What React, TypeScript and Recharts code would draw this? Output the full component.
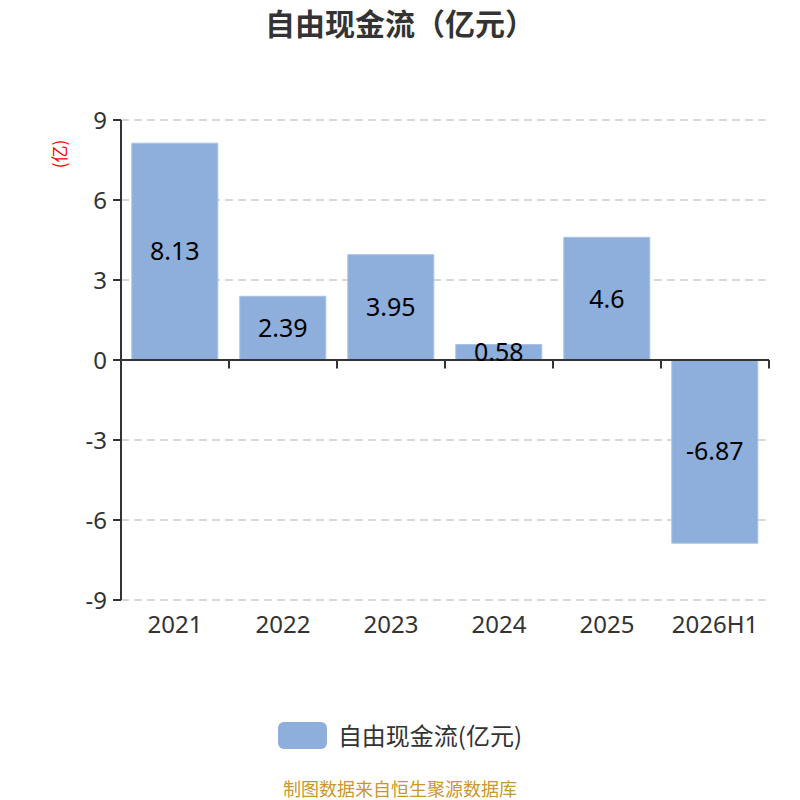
import React from "react";
import {
  BarChart,
  Bar,
  XAxis,
  YAxis,
  CartesianGrid,
  ReferenceLine,
  LabelList,
} from "recharts";

const categories = ["2021", "2022", "2023", "2024", "2025", "2026H1"];
const fcfValues = [8.13, 2.39, 3.95, 0.58, 4.6, -6.87];
const yTicks = [-9, -6, -3, 0, 3, 6, 9];
const boundaryTicks = [1, 2, 3, 4, 5, 6];

const data = categories.map((c, i) => ({ name: c, value: fcfValues[i], pos: i + 0.5 }));

const FONT = '"Noto Sans", "Noto Sans CJK SC", sans-serif';
const CJK = '"Noto Sans CJK SC", sans-serif';
const BAR_COLOR = "#8eaedb";

export default function App() {
  return (
    <div
      style={{
        position: "absolute",
        left: 0,
        top: 0,
        width: 800,
        height: 800,
        background: "#fff",
        fontFamily: FONT,
        overflow: "hidden",
      }}
    >
      <div
        style={{
          position: "absolute",
          top: 2,
          left: 0,
          width: 800,
          textAlign: "center",
          fontSize: 30,
          fontWeight: "bold",
          color: "#333",
          fontFamily: CJK,
          lineHeight: "40px",
        }}
      >
        自由现金流（亿元）
      </div>
      <div
        style={{
          position: "absolute",
          left: 59,
          top: 154,
          transform: "translate(-50%, -50%) rotate(-90deg)",
          color: "red",
          fontSize: 17,
          fontFamily: CJK,
          whiteSpace: "nowrap",
          lineHeight: "20px",
        }}
      >
        (亿)
      </div>
      <BarChart
        width={800}
        height={800}
        data={data}
        margin={{ top: 120, right: 31, bottom: 170, left: 60 }}
        barCategoryGap="10%"
        style={{ position: "absolute", left: 0, top: 0 }}
      >
        <CartesianGrid
          horizontal
          vertical={false}
          stroke="#cccccc"
          strokeDasharray="8 5"
          strokeWidth={1.3}
        />
        <XAxis
          dataKey="name"
          height={30}
          axisLine={false}
          tickLine={false}
          tickMargin={10}
          interval={0}
          tick={{ fill: "#333", fontSize: 24, fontFamily: FONT }}
        />
        <XAxis
          xAxisId="num"
          type="number"
          dataKey="pos"
          domain={[0, 6]}
          ticks={[0, 1, 2, 3, 4, 5, 6]}
          hide
          allowDataOverflow
        />
        <YAxis
          width={61}
          domain={[-9, 9]}
          ticks={yTicks}
          interval={0}
          tickSize={8}
          tickMargin={6}
          axisLine={{ stroke: "#333", strokeWidth: 2 }}
          tickLine={{ stroke: "#333", strokeWidth: 2 }}
          tick={{ fill: "#333", fontSize: 24, fontFamily: FONT }}
        />
        <Bar
          dataKey="value"
          fill={BAR_COLOR}
          stroke="#a9c2e6"
          strokeWidth={1}
          isAnimationActive={false}
        >
          <LabelList
            dataKey="value"
            position="center"
            fill="#000"
            fontSize={25}
            fontFamily={FONT}
          />
        </Bar>
        <ReferenceLine y={0} stroke="#333" strokeWidth={2} />
        {boundaryTicks.map((t) => (
          <ReferenceLine
            key={t}
            xAxisId="num"
            segment={[
              { x: t, y: 0 },
              { x: t, y: -0.32 },
            ]}
            stroke="#333"
            strokeWidth={2}
            ifOverflow="visible"
          />
        ))}
      </BarChart>
      <div
        style={{
          position: "absolute",
          top: 720,
          left: 0,
          width: 800,
          display: "flex",
          justifyContent: "center",
          alignItems: "center",
        }}
      >
        <div
          style={{
            width: 49,
            height: 27,
            borderRadius: 6,
            background: BAR_COLOR,
            marginRight: 11,
          }}
        />
        <span
          style={{
            fontSize: 24,
            color: "#333",
            fontFamily: CJK,
            lineHeight: "30px",
          }}
        >
          自由现金流(亿元)
        </span>
      </div>
      <div
        style={{
          position: "absolute",
          top: 778,
          left: 0,
          width: 800,
          textAlign: "center",
          fontSize: 18,
          color: "#c9972c",
          fontFamily: CJK,
          lineHeight: "21px",
        }}
      >
        制图数据来自恒生聚源数据库
      </div>
    </div>
  );
}
